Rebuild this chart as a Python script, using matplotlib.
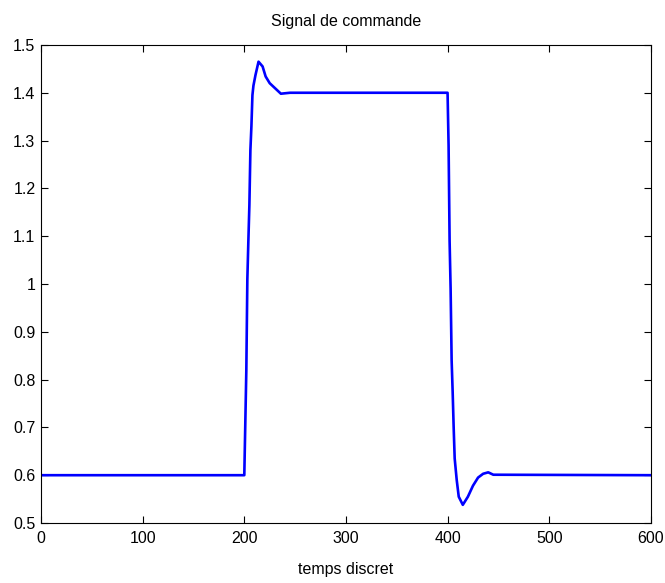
import matplotlib

matplotlib.use("Agg")
import matplotlib.pyplot as plt

# sample times and control signal values
t = [0, 200, 201, 202, 203, 204, 205, 206, 207, 208, 209, 211, 214, 218,
     221, 225, 230, 236, 245, 400, 401, 402, 403, 404, 405, 406, 407, 409,
     411, 415, 420, 425, 430, 435, 440, 445, 600]
u = [0.60, 0.60, 0.71, 0.82, 1.01, 1.09, 1.165, 1.28, 1.33, 1.395, 1.415,
     1.437, 1.465, 1.455, 1.434, 1.42, 1.41, 1.398, 1.40, 1.40, 1.29, 1.09,
     0.99, 0.84, 0.775, 0.70, 0.635, 0.59, 0.555, 0.538, 0.555, 0.578,
     0.595, 0.603, 0.606, 0.601, 0.60]

xticks = [0, 100, 200, 300, 400, 500, 600]
yticks = [0.5, 0.6, 0.7, 0.8, 0.9, 1.0, 1.1, 1.2, 1.3, 1.4, 1.5]
ytick_labels = ["0.5", "0.6", "0.7", "0.8", "0.9", "1", "1.1", "1.2", "1.3", "1.4", "1.5"]

plt.rcParams["font.family"] = ["Liberation Sans", "DejaVu Sans"]

fig = plt.figure(figsize=(6.65, 5.83), dpi=100)
ax = fig.add_axes([0.0617, 0.1029, 0.917, 0.820])

ax.plot(t, u, color="#0000ff", linewidth=1.9)

ax.set_xlim(0, 600)
ax.set_ylim(0.5, 1.5)
ax.set_xticks(xticks)
ax.set_yticks(yticks)
ax.set_yticklabels(ytick_labels)
ax.tick_params(direction="in", length=5, width=0.8, top=True, right=True,
               labelsize=11.5)
ax.tick_params(axis="x", pad=6)
ax.tick_params(axis="y", pad=4)
for s in ax.spines.values():
    s.set_linewidth(0.8)

ax.set_title("Signal de commande", fontsize=11.5, pad=14)
ax.set_xlabel("temps discret", fontsize=11.5, labelpad=11)

fig.savefig("out.png", dpi=100)
